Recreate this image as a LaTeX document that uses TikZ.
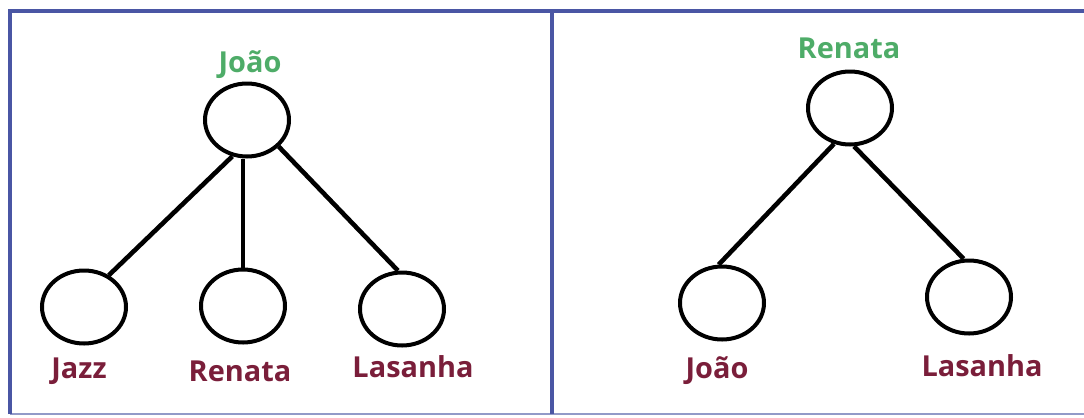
\documentclass[tikz,border=0pt]{standalone}
\usepackage{fontspec}
\setmainfont{Open Sans}
\usetikzlibrary{shapes.geometric}

\definecolor{frameblue}{RGB}{74,86,164}
\definecolor{rootgreen}{RGB}{78,172,104}
\definecolor{leafred}{RGB}{122,30,58}

\begin{document}
\begin{tikzpicture}[x=1bp, y=-1bp, font=\fontsize{29}{34}\selectfont\bfseries,
	vertex/.style={draw, ellipse, line width=4bp, inner sep=0pt, minimum width=84bp, minimum height=73bp},
	rootname/.style={text=rootgreen, anchor=base},
	leafname/.style={text=leafred, anchor=base},
	edge/.style={line width=4.6bp}]
	\useasboundingbox (0,0) rectangle (1084,417);
	% frame
	\draw[frameblue!60, line width=2bp] (10,414) -- (1084,414);
	\draw[frameblue, line width=4bp] (10,414) -- (10,11) -- (1084,11);
	\draw[frameblue, line width=4bp] (552,11) -- (552,414);
	% left tree
	\node[vertex] (jRoot) at (247,120) {};
	\node[vertex] (jJazz) at (84,307) {};
	\node[vertex] (jRenata) at (243,306) {};
	\node[vertex] (jLasanha) at (402,309) {};
	\node[rootname] (tJoaoTop) at (250,72) {João};
	\node[leafname] (tJazz) at (79,378) {Jazz};
	\node[leafname] (tRenata) at (240,381) {Renata};
	\node[leafname] (tLasanha) at (413,377) {Lasanha};
	\draw[edge] (jRoot.-112) -- (jJazz.52);
	\draw[edge] (jRenata.north) -- (jRenata.north |- jRoot.south);
	\draw[edge] (jRoot.-40) -- (jLasanha.96);
	% right tree
	\node[vertex] (rRoot) at (850,108) {};
	\node[vertex] (rJoao) at (722,303) {};
	\node[vertex] (rLasanha) at (969,297) {};
	\node[rootname] (tRenataTop) at (849,58) {Renata};
	\node[leafname] (tJoao) at (717,378) {João};
	\node[leafname] (tLasanha2) at (982,376) {Lasanha};
	\draw[edge] (rRoot.-114) -- (rJoao.95);
	\draw[edge] (rRoot.-84) -- (rLasanha.98);
\end{tikzpicture}
\end{document}
